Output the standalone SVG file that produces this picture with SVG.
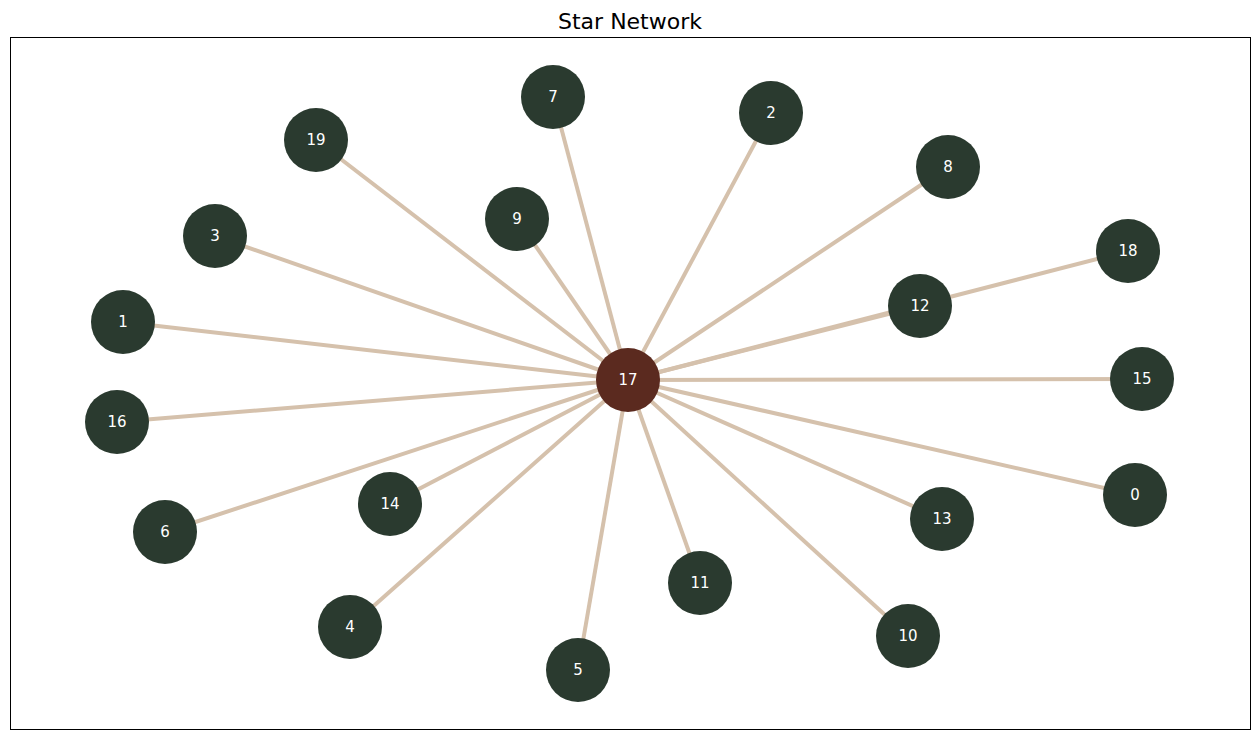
<svg xmlns="http://www.w3.org/2000/svg" width="1260" height="740" viewBox="0 0 1260 740">
<style>
.e{stroke:#d5c1ac;stroke-width:4;fill:none}
.n{fill:#2a3a2f}
.c{fill:#5b2a1f}
text{font-family:"DejaVu Sans",sans-serif;font-size:15px;fill:#fff;text-anchor:middle;dominant-baseline:central}
.t{font-size:22px;fill:#000}
</style>
<rect width="1260" height="740" fill="#fff"/>
<text class="t" x="630" y="21">Star Network</text>
<rect x="10.5" y="37.5" width="1240" height="692" fill="none" stroke="#000" stroke-width="1"/>
<g id="edges">
<line class="e" x1="628" y1="380" x2="553" y2="97"/>
<line class="e" x1="628" y1="380" x2="771" y2="113"/>
<line class="e" x1="628" y1="380" x2="316" y2="140"/>
<line class="e" x1="628" y1="380" x2="517" y2="219"/>
<line class="e" x1="628" y1="380" x2="215" y2="236"/>
<line class="e" x1="628" y1="380" x2="948" y2="167"/>
<line class="e" x1="628" y1="380" x2="1128" y2="251"/>
<line class="e" x1="628" y1="380" x2="920" y2="306"/>
<line class="e" x1="628" y1="380" x2="123" y2="322"/>
<line class="e" x1="628" y1="380" x2="1142" y2="379"/>
<line class="e" x1="628" y1="380" x2="117" y2="422"/>
<line class="e" x1="628" y1="380" x2="1135" y2="495"/>
<line class="e" x1="628" y1="380" x2="390" y2="504"/>
<line class="e" x1="628" y1="380" x2="942" y2="519"/>
<line class="e" x1="628" y1="380" x2="165" y2="532"/>
<line class="e" x1="628" y1="380" x2="700" y2="583"/>
<line class="e" x1="628" y1="380" x2="350" y2="627"/>
<line class="e" x1="628" y1="380" x2="908" y2="636"/>
<line class="e" x1="628" y1="380" x2="578" y2="670"/>
</g>
<g id="n7"><circle class="n" cx="553" cy="97" r="32"/><text x="553" y="97">7</text></g>
<g id="n2"><circle class="n" cx="771" cy="113" r="32"/><text x="771" y="113">2</text></g>
<g id="n19"><circle class="n" cx="316" cy="140" r="32"/><text x="316" y="140">19</text></g>
<g id="n9"><circle class="n" cx="517" cy="219" r="32"/><text x="517" y="219">9</text></g>
<g id="n3"><circle class="n" cx="215" cy="236" r="32"/><text x="215" y="236">3</text></g>
<g id="n8"><circle class="n" cx="948" cy="167" r="32"/><text x="948" y="167">8</text></g>
<g id="n18"><circle class="n" cx="1128" cy="251" r="32"/><text x="1128" y="251">18</text></g>
<g id="n12"><circle class="n" cx="920" cy="306" r="32"/><text x="920" y="306">12</text></g>
<g id="n1"><circle class="n" cx="123" cy="322" r="32"/><text x="123" y="322">1</text></g>
<g id="n15"><circle class="n" cx="1142" cy="379" r="32"/><text x="1142" y="379">15</text></g>
<g id="n16"><circle class="n" cx="117" cy="422" r="32"/><text x="117" y="422">16</text></g>
<g id="n0"><circle class="n" cx="1135" cy="495" r="32"/><text x="1135" y="495">0</text></g>
<g id="n14"><circle class="n" cx="390" cy="504" r="32"/><text x="390" y="504">14</text></g>
<g id="n13"><circle class="n" cx="942" cy="519" r="32"/><text x="942" y="519">13</text></g>
<g id="n6"><circle class="n" cx="165" cy="532" r="32"/><text x="165" y="532">6</text></g>
<g id="n11"><circle class="n" cx="700" cy="583" r="32"/><text x="700" y="583">11</text></g>
<g id="n4"><circle class="n" cx="350" cy="627" r="32"/><text x="350" y="627">4</text></g>
<g id="n10"><circle class="n" cx="908" cy="636" r="32"/><text x="908" y="636">10</text></g>
<g id="n5"><circle class="n" cx="578" cy="670" r="32"/><text x="578" y="670">5</text></g>
<g id="n17"><circle class="c" cx="628" cy="380" r="32"/><text x="628" y="380">17</text></g>
</svg>
